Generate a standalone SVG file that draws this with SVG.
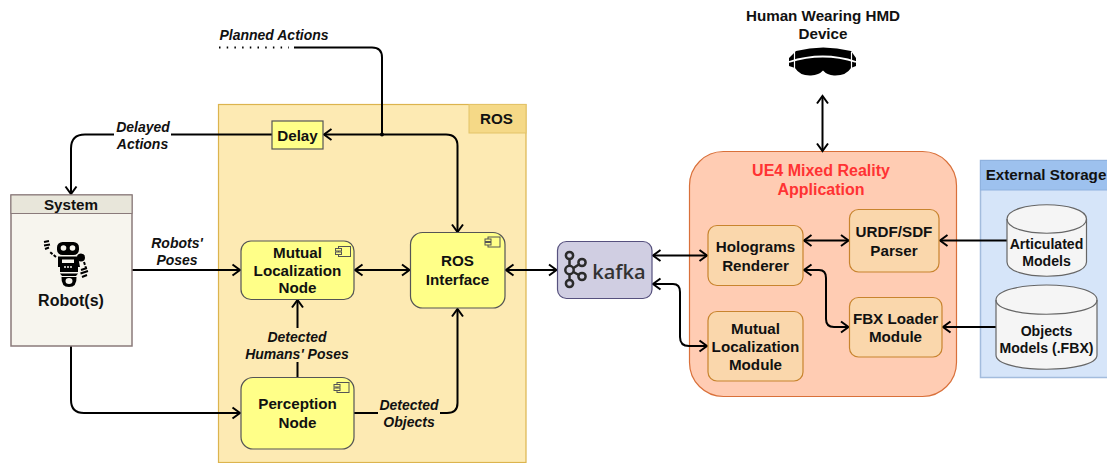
<svg xmlns="http://www.w3.org/2000/svg" width="1107" height="463" viewBox="0 0 1107 463">
<style>
text{font-family:"Liberation Sans",Arial,sans-serif;font-weight:700;fill:#111;text-anchor:middle}
.n{font-size:15.200px}
.l{font-size:14px;font-style:italic}
.d{font-size:14.100px}
.t{font-size:16px;fill:#ff3333}
.c{fill:none;stroke:#000;stroke-width:2}
.y{fill:#ffff88;stroke:#555;stroke-width:1.200}
.o{fill:#fad7ac;stroke:#c8842e;stroke-width:1.200}
.db{fill:#f5f5f5;stroke:#666;stroke-width:1.200}
.ic{fill:#ffff88;stroke:#555;stroke-width:1}
</style>
<defs>
<marker id="a" markerUnits="userSpaceOnUse" markerWidth="14" markerHeight="14" refX="10" refY="7" orient="auto-start-reverse" viewBox="0 0 14 14"><path d="M2.500 1.500L10 7L2.500 12.500" fill="none" stroke="#000" stroke-width="2"/></marker>
<g id="comp"><rect x="3" y="0" width="12" height="10" class="ic"/><rect x="0" y="2" width="6" height="2.500" class="ic"/><rect x="0" y="5.500" width="6" height="2.500" class="ic"/></g>
</defs>
<g id="ros"><rect x="218.500" y="104.500" width="307.500" height="358" fill="#fdeab3" stroke="#dcb44e" stroke-width="1.200"/><rect x="469" y="104.500" width="57" height="28.500" fill="#f5d987" stroke="#e3c368" stroke-width="1"/><text x="496.500" y="124" class="n">ROS</text></g>
<g id="ue4"><rect x="689.500" y="151.500" width="267" height="245" rx="34" fill="#ffccb3" stroke="#d9703a" stroke-width="1.200"/><text x="821" y="176" class="t">UE4 Mixed Reality</text><text x="821" y="195" class="t">Application</text></g>
<g id="storage"><rect x="980.500" y="160.500" width="140" height="217" fill="#d6e5f9" stroke="#a3bcdd" stroke-width="1.500"/><rect x="980.500" y="160.500" width="140" height="29.500" fill="#9dc1ee" stroke="#8fb2df" stroke-width="1"/><text x="1046" y="180" class="n">External Storage</text></g>
<g id="connectors">
<path class="c" d="M272 134.500H85Q71 134.500 71 148.500V194" marker-end="url(#a)"/>
<path class="c" d="M457.500 232V146Q457.500 134.500 446 134.500H324" marker-start="url(#a)" marker-end="url(#a)"/>
<path class="c" d="M294 47.500H372Q382 47.500 382 57.500V134.500"/>
<path d="M219 47.500H289" fill="none" stroke="#000" stroke-width="2" stroke-dasharray="1.500 6.200"/>
<circle cx="382" cy="134.500" r="2"/>
<path class="c" d="M132 270H240" marker-end="url(#a)"/>
<path class="c" d="M71 346V400Q71 413 84 413H240" marker-end="url(#a)"/>
<path class="c" d="M297.500 377V300" marker-end="url(#a)"/>
<path class="c" d="M354 413H447Q457.500 413 457.500 403V309" marker-end="url(#a)"/>
<path class="c" d="M355 270H409.500" marker-start="url(#a)" marker-end="url(#a)"/>
<path class="c" d="M506 270H556.500" marker-start="url(#a)" marker-end="url(#a)"/>
<path class="c" d="M653 255.500H707" marker-start="url(#a)" marker-end="url(#a)"/>
<path class="c" d="M653 284H673Q680 284 680 292V337Q680 346 689 346H707" marker-start="url(#a)" marker-end="url(#a)"/>
<path class="c" d="M804 240.500H848.500" marker-start="url(#a)" marker-end="url(#a)"/>
<path class="c" d="M804 270H819Q826 270 826 278V319Q826 327 834 327H848.500" marker-start="url(#a)" marker-end="url(#a)"/>
<path class="c" d="M1007 240.500H940" marker-end="url(#a)"/>
<path class="c" d="M996 327H943" marker-end="url(#a)"/>
<path class="c" d="M822.500 96V151" marker-start="url(#a)" marker-end="url(#a)"/>
</g>
<g id="label-planned"><text x="274" y="40" class="l">Planned Actions</text></g>
<g id="label-delayed"><rect x="114" y="120" width="57" height="32" fill="#fff"/><text x="143" y="132" class="l">Delayed</text><text x="142.500" y="149" class="l">Actions</text></g>
<g id="label-robots"><text x="177" y="248" class="l">Robots'</text><text x="177" y="265" class="l">Poses</text></g>
<g id="label-humans"><rect x="243" y="328" width="108" height="34" fill="#fdeab3"/><text x="297" y="342" class="l">Detected</text><text x="297" y="359" class="l">Humans' Poses</text></g>
<g id="label-objects"><rect x="378" y="397" width="62" height="32" fill="#fdeab3"/><text x="409" y="410" class="l">Detected</text><text x="409" y="427" class="l">Objects</text></g>
<g id="delay"><rect x="272" y="121" width="51" height="28" class="y"/><text x="297.500" y="141" class="n">Delay</text></g>
<g id="system"><rect x="11" y="195" width="121" height="151" fill="#f7f5ee" stroke="#8a7a7a" stroke-width="1.500"/><rect x="11" y="195" width="121" height="18.500" fill="#e8e6da" stroke="#8a7a7a" stroke-width="1"/><text x="71" y="210" class="n">System</text><text x="71" y="306" style="font-size:16px">Robot(s)</text>
<g id="robot-icon"><rect x="57" y="242" width="22" height="13" rx="5.500" fill="#000"/><circle cx="63.500" cy="248" r="2.800" fill="#f7f5ee"/><circle cx="72.500" cy="248" r="2.800" fill="#f7f5ee"/><path d="M58 256.500H78L80 267H78V272H60V267H58Z" fill="#000"/><rect x="62" y="259.500" width="12" height="3.500" fill="#f7f5ee"/><path d="M64 267H72" stroke="#f7f5ee" stroke-width="1.500" stroke-dasharray="2 1"/><path d="M60 273.500H78L76 276H62Z" fill="#000"/><path d="M61.500 277H76.500Q77 287 69 287Q61 287 61.500 277Z" fill="#000"/><ellipse cx="69" cy="281" rx="3.500" ry="3" fill="#f7f5ee"/><circle cx="81" cy="257.500" r="4" fill="#000"/><path d="M84 262L86 268M56 257L50 252" fill="none" stroke="#000" stroke-width="2" stroke-dasharray="3 1.500"/><path d="M44 242L49 241M44 245.500L50 244.500M45 249L49 247.500M81 270L87 268M80.500 273.500L88 271M82 277L87 275" fill="none" stroke="#000" stroke-width="2"/></g></g>
<g id="mutual-node"><rect x="241" y="241" width="113" height="58.500" rx="10" class="y"/><use href="#comp" x="335.500" y="246.500"/><text x="297.500" y="258" class="n">Mutual</text><text x="297.500" y="276" class="n">Localization</text><text x="297.500" y="293" class="n">Node</text></g>
<g id="perception-node"><rect x="241" y="377.500" width="113" height="71.500" rx="12" class="y"/><use href="#comp" x="334" y="382.500"/><text x="297.500" y="409" class="n">Perception</text><text x="297.500" y="428" class="n">Node</text></g>
<g id="ros-interface"><rect x="410.500" y="232.500" width="94.500" height="75.500" rx="12" class="y"/><use href="#comp" x="485" y="237"/><text x="457.500" y="266" class="n">ROS</text><text x="457.500" y="285" class="n">Interface</text></g>
<g id="kafka"><rect x="557.500" y="241.500" width="94.500" height="57" rx="9" fill="#d0cee2" stroke="#56517e" stroke-width="1.200"/>
<g fill="none" stroke="#2b2b2b" stroke-width="2.500"><circle cx="569.500" cy="255.500" r="3.600"/><circle cx="569.500" cy="270" r="4.200"/><circle cx="569.500" cy="283.500" r="3.600"/><circle cx="582" cy="262.500" r="3.600"/><circle cx="582" cy="276.500" r="3.600"/><path d="M569.500 259V266M569.500 274V280M573.500 268L578.800 264.500M573.500 272L578.800 275"/></g>
<text x="619" y="278.500" style="font-family:'Open Sans',sans-serif;font-size:20px;font-weight:600;fill:#333">kafka</text></g>
<g id="holograms"><rect x="708" y="225.500" width="95" height="60" rx="9" class="o"/><text x="755.500" y="252" class="n">Holograms</text><text x="755.500" y="271" class="n">Renderer</text></g>
<g id="mutual-module"><rect x="708" y="311.500" width="95" height="69.500" rx="9" class="o"/><text x="755.500" y="334" class="n">Mutual</text><text x="755.500" y="352" class="n">Localization</text><text x="755.500" y="370" class="n">Module</text></g>
<g id="urdf"><rect x="849.500" y="209.500" width="89.500" height="62.500" rx="9" class="o"/><text x="894" y="237" class="n">URDF/SDF</text><text x="894" y="256" class="n">Parser</text></g>
<g id="fbx"><rect x="849.500" y="297.500" width="92.500" height="59.500" rx="9" class="o"/><text x="895.500" y="324" class="n">FBX Loader</text><text x="895.500" y="342" class="n">Module</text></g>
<g id="articulated"><path d="M1007 219C1007 200 1086.500 200 1086.500 219V262C1086.500 281 1007 281 1007 262Z" class="db"/><path d="M1007 219C1007 238 1086.500 238 1086.500 219" fill="none" stroke="#666" stroke-width="1.200"/><text x="1046.500" y="249" class="d">Articulated</text><text x="1046.500" y="266" class="d">Models</text></g>
<g id="objects"><path d="M996 300C996 280 1097 280 1097 300V355C1097 374 996 374 996 355Z" class="db"/><path d="M996 300C996 319 1097 319 1097 300" fill="none" stroke="#666" stroke-width="1.200"/><text x="1046.500" y="336" class="d">Objects</text><text x="1046.500" y="353" class="d">Models (.FBX)</text></g>
<g id="hmd"><text x="823" y="21" class="n">Human Wearing HMD</text><text x="823" y="39" class="n">Device</text>
<path d="M796 51Q823 44 851 51L856 58V66L851 68Q846 76 834 75.500Q827 75 823 70.500Q819 75 811 75.500Q800 76 795 68L789 66V58Z" fill="#000"/><path d="M789 62Q823 51 856 62" fill="none" stroke="#fff" stroke-width="1.800"/><path d="M794.500 52L794.500 68M851.500 52L851.500 68" stroke="#fff" stroke-width="1.200"/></g>
</svg>
